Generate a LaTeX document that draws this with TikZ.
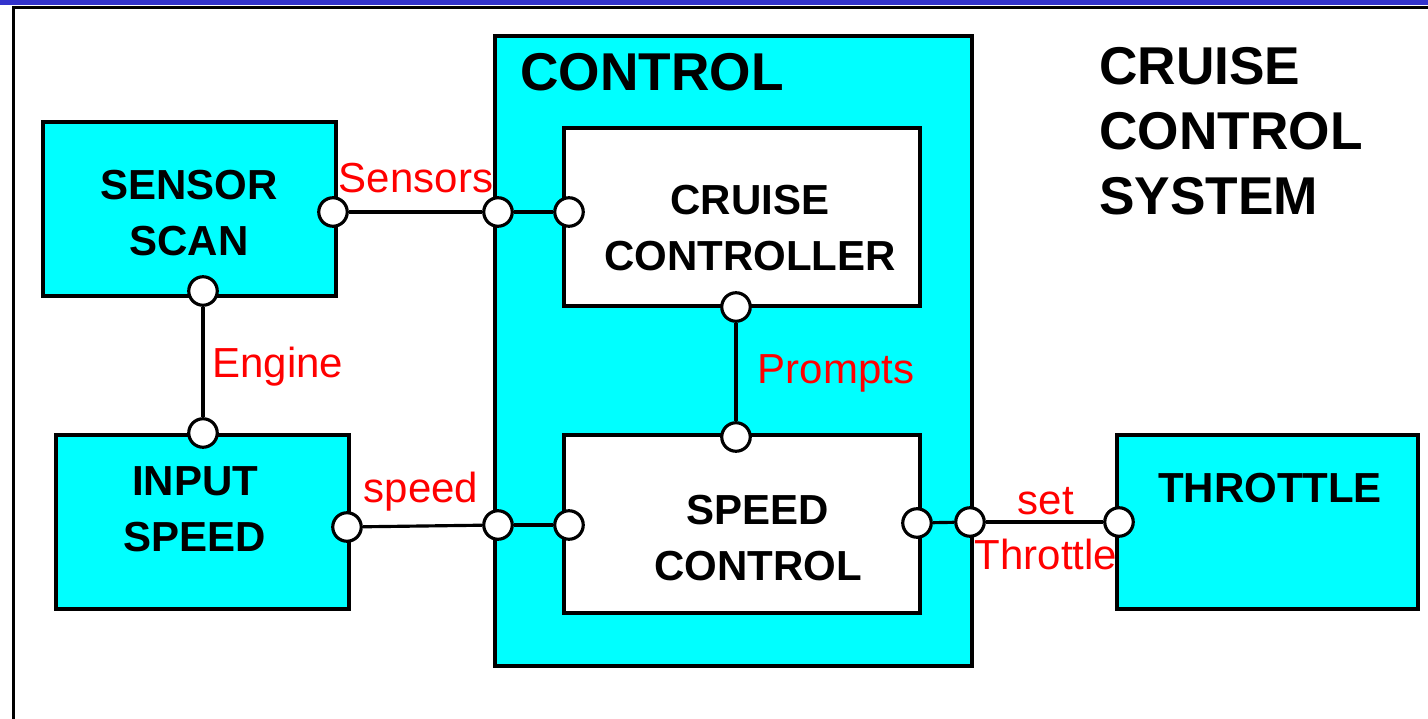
\documentclass[tikz,border=0pt]{standalone}
\usepackage{fontspec}
\setmainfont{Liberation Sans}
\usetikzlibrary{fit}
\definecolor{cyanbox}{RGB}{0,255,255}
\definecolor{topblue}{RGB}{51,51,204}
\definecolor{lblred}{RGB}{255,0,0}
\tikzset{
  box/.style={draw=black, line width=1.8pt, fill=cyanbox, inner sep=0pt},
  wbox/.style={draw=black, line width=1.8pt, fill=white, inner sep=0pt},
  port/.style={circle, draw=black, line width=1.8pt, fill=white, minimum size=0.57cm, inner sep=0pt},
  conn/.style={line width=1.8pt, draw=black},
  boxtext/.style={font=\fontsize{23.9}{32}\selectfont\bfseries, align=center, inner sep=0pt},
  bigtext/.style={font=\fontsize{30.3}{37}\selectfont\bfseries, align=left, inner sep=0pt},
  lbl/.style={font=\fontsize{23.9}{28}\selectfont, text=lblred, inner sep=0pt},
}
\begin{document}
\begin{tikzpicture}[x=0.02cm, y=-0.02cm]
\useasboundingbox (0,0) rectangle (1428,719);
\fill[white] (0,0) rectangle (1428,719);
% frame
\fill[topblue] (0,0) rectangle (1428,5);
\draw[line width=1.8pt] (13.5,754) -- (13.5,7.5) -- (1440,7.5);
% boxes
\node[box, fit={(43,122) (336,296)}] (sensor) {};
\node[box, fit={(56,435) (349,609)}] (input) {};
\node[box, fit={(495,36) (972,666)}] (control) {};
\node[wbox, fit={(564,128) (920,306)}] (cruise) {};
\node[wbox, fit={(564,435) (920,613)}] (speedc) {};
\node[box, fit={(1117,435) (1418,609)}] (throttle) {};
% texts
\node[boxtext] (tsensor) at (189,213) {SENSOR\\SCAN};
\node[boxtext] (tinput) at (195,509) {INPUT\\SPEED};
\node[boxtext] (tcruise) at (750,228) {CRUISE\\CONTROLLER};
\node[boxtext] (tspeed) at (758,538) {SPEED\\CONTROL};
\node[boxtext] (tthrottle) at (1270,488) {THROTTLE};
\node[bigtext, anchor=center] (tcontrol) at (652,72) {CONTROL};
\node[bigtext, anchor=west] (tsystem) at (1099,131) {CRUISE\\CONTROL\\SYSTEM};
% ports
\node[port] (p1) at (333,212) {};
\node[port] (p2) at (498,212) {};
\node[port] (p3) at (569,212) {};
\node[port] (p4) at (203,291) {};
\node[port] (p5) at (203,433) {};
\node[port] (p6) at (347,527) {};
\node[port] (p7) at (498,525) {};
\node[port] (p8) at (569,525) {};
\node[port] (p9) at (736,307) {};
\node[port] (p10) at (736,437) {};
\node[port] (p11) at (917,523) {};
\node[port] (p12) at (970,522) {};
\node[port] (p13) at (1119,522) {};
% connectors
\draw[conn] (p1) -- (p2);
\draw[conn] (p2) -- (p3);
\draw[conn] (p4) -- (p5);
\draw[conn] (p6) -- (p7);
\draw[conn] (p7) -- (p8);
\draw[conn] (p9) -- (p10);
\draw[conn] (p11) -- (p12);
\draw[conn] (p12) -- (p13);
% labels
\node[lbl] (lsensors) at (416,178) {Sensors};
\node[lbl] (lengine) at (278,367) {Engine};
\node[lbl] (lspeed) at (421,492) {speed};
\node[lbl] (lprompts) at (836,373) {Prompts};
\node[lbl] (lset) at (1046,501) {set};
\node[lbl] (lthrottle) at (1046,554) {Throttle};
\end{tikzpicture}
\end{document}
